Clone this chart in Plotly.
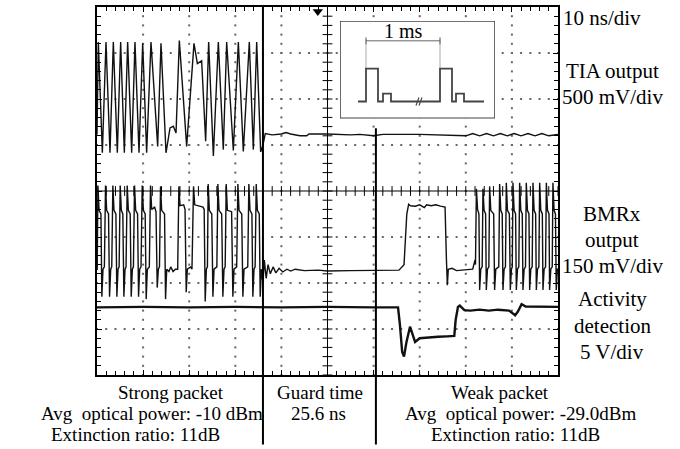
import numpy as np
import plotly.graph_objects as go

SERIF = "Liberation Serif, Times New Roman, serif"

# ---------------- data (time in ns, amplitude in screen divisions) ----------------
tia_t = [0, 0.29, 1.16, 1.95, 2.82, 3.54, 4.41, 5.13, 5.93, 6.65, 7.52, 8.24, 9.11, 9.91, 10.77,
         11.71, 13.16, 13.88, 14.97, 15.84, 16.56, 17.14, 17.86, 19.45, 21.04, 21.77, 22.70, 23.57,
         24.22, 25.24, 26.32, 27.40, 28.13, 29.57, 30.66, 31.74, 33.04, 33.91, 34.64, 35.50,
         36.0, 36.5, 38, 40, 41, 42, 44, 45.5, 46, 50, 55, 57, 60, 62, 70, 75, 80,
         81.5, 83, 84.5, 86, 87.5, 89, 90.5, 92, 93.5, 95, 96.5, 98, 100]
tia_v = [1.23, 3.24, 0.83, 3.24, 0.83, 3.24, 0.83, 3.24, 0.83, 3.24, 0.83, 3.24, 0.83, 3.21, 0.83,
         3.24, 0.97, 3.21, 0.83, 1.37, 1.41, 1.26, 3.27, 0.97, 3.21, 2.77, 2.83, 1.08,
         3.24, 0.76, 3.24, 0.90, 3.24, 0.88, 3.24, 0.86, 3.24, 0.90, 3.24, 0.85,
         1.0, 1.25, 1.22, 1.24, 1.27, 1.24, 1.2, 1.2, 1.24, 1.24, 1.22, 1.23, 1.2, 1.23, 1.23, 1.22, 1.2,
         1.25, 1.2, 1.25, 1.2, 1.25, 1.2, 1.25, 1.2, 1.25, 1.2, 1.25, 1.2, 1.23]

bmrx_t = [0.0, 0.05, 0.2, 0.45,
          0.85, 1.05, 1.3, 1.6, 1.85, 2.1, 2.5, 2.72, 2.97, 3.2, 3.44, 3.69,
          4.1, 4.31, 4.56, 4.8, 5.03, 5.28, 5.6, 5.83, 6.08, 6.3, 6.55, 6.8,
          7.2, 7.42, 7.67, 7.9, 8.14, 8.39, 8.8, 9.01, 9.26, 9.55, 9.81, 10.06,
          10.45, 10.67, 10.92, 11.35, 11.61, 11.86, 12.5, 12.8, 13.06, 13.31,
          13.55, 13.78, 14.03, 14.65, 14.87, 15.12, 15.6, 16.0, 16.5, 17.0,
          17.5, 17.76, 18.01, 18.8, 19.1, 19.35, 19.6, 20.3,
          20.6, 20.94, 21.19, 22.3, 23.0, 23.25, 23.47, 23.72,
          23.95, 24.12, 24.37, 24.9, 25.14, 25.39, 25.9, 26.0, 26.22, 26.47,
          27.05, 27.3, 27.55, 27.8, 28.03, 28.28, 29.2, 29.47, 29.72,
          30.3, 30.56, 30.81, 31.4, 31.64, 31.89, 32.7, 32.94, 33.19,
          33.6, 33.81, 34.06, 34.3, 34.54, 34.79, 35.2, 35.4, 35.65,
          36.0, 36.3, 36.7, 37.1, 37.6, 38.2, 38.8, 39.5, 40.3, 41.2, 42, 43, 45, 48, 50, 55, 60, 63, 65.5, 66.6,
          67.2, 67.6, 68, 69, 70, 71, 71.5, 72.5, 73.5, 74.5, 75.5, 75.8, 76.0, 76.2, 77, 78, 80, 81.5, 82.0,
          82.1, 82.3, 82.55, 82.85, 83.0, 83.25, 83.55, 83.72, 83.97, 84.3, 84.45, 84.7,
          85.0, 85.17, 85.42, 86.05, 86.25, 86.5, 87.15, 87.34, 87.59, 87.9, 88.06, 88.31,
          88.6, 88.79, 89.04, 89.45, 89.65, 89.9, 90.08, 90.23, 90.48, 90.8, 90.96, 91.21,
          91.5, 91.68, 91.93, 92.25, 92.4, 92.65, 92.95, 93.12, 93.37, 93.7, 93.85, 94.1,
          94.4, 94.57, 94.82, 95.15, 95.3, 95.55, 95.85, 96.02, 96.27, 96.6, 96.74, 96.99,
          97.3, 97.47, 97.72, 98.05, 98.18, 98.43, 98.75, 98.9, 99.15, 99.45, 99.62, 99.87, 100]
bmrx_v = [-1.7, -1.7, 0.12, -0.42,
          -0.5, -2.3, -1.7, -1.65, 0.12, -0.42, -0.5, -2.3, -1.7, -1.65, 0.12, -0.42,
          -0.5, -2.3, -1.7, -1.65, 0.12, -0.42, -0.5, -2.3, -1.7, -1.65, 0.12, -0.42,
          -0.5, -2.3, -1.7, -1.65, 0.12, -0.42, -0.5, -2.3, -1.7, -1.65, 0.12, -0.42,
          -0.5, -2.35, -1.7, -1.65, 0.12, -0.4, -0.35, -0.45, -2.1, -1.7,
          -1.65, 0.1, -0.42, -0.5, -2.35, -1.7, -1.75, -1.65, -1.75, -1.7,
          -1.7, 0.1, -0.32, -0.3, -0.4, -2.2, -1.7, -1.65,
          -1.7, 0.1, -0.3, -0.33, -0.35, -0.4, -2.4, -1.7,
          -1.65, 0.15, -0.42, -0.5, -2.3, -1.7, -1.65, -1.65, 0.15, -0.42,
          -0.5, -2.3, -1.7, -1.65, 0.15, -0.42, -0.45, -2.3, -1.7,
          -1.65, 0.15, -0.42, -0.5, -2.3, -1.7, -1.65, 0.15, -0.42,
          -0.5, -2.3, -1.7, -1.65, 0.15, -0.42, -0.5, -2.3, -1.7,
          -2.0, -1.5, -1.9, -1.6, -1.8, -1.65, -1.78, -1.68, -1.76, -1.7, -1.74, -1.7, -1.73, -1.72, -1.74, -1.73, -1.73, -1.73, -1.72, -1.6,
          -0.5, -0.29, -0.32, -0.33, -0.3, -0.36, -0.3, -0.32, -0.3, -0.33, -0.35, -1.5, -2.05, -1.7, -1.68, -1.73, -1.72, -1.7, -1.5,
          -1.6, 0.05, -0.4, -0.5, -2.15, -1.7, -1.65, 0.05, -0.42, -0.5, -2.15, -1.7,
          -1.65, 0.1, -0.42, -0.5, -2.15, -1.7, -1.65, 0.15, -0.42, -0.5, -2.15, -1.7,
          -1.65, 0.18, -0.42, -0.5, -2.15, -1.7, -1.65, 0.18, -0.42, -0.5, -2.15, -1.7,
          -1.65, 0.18, -0.42, -0.5, -2.15, -1.7, -1.65, 0.18, -0.42, -0.5, -2.15, -1.7,
          -1.65, 0.18, -0.42, -0.5, -2.15, -1.7, -1.65, 0.18, -0.42, -0.5, -2.15, -1.7,
          -1.65, 0.18, -0.42, -0.5, -2.15, -1.7, -1.65, 0.18, -0.42, -0.5, -2.15, -1.7, -1.7]

act_t = [0, 10, 20, 30, 40, 50, 60, 65.3, 65.7, 66.2, 66.6, 67.1, 67.9, 68.4, 69.0, 70, 72, 74, 76, 77.5,
         77.8, 78.3, 78.7, 79.7, 81, 83, 85, 87, 89.4, 90.2, 90.7, 91.3, 92.1, 93, 96, 100]
act_v = [-2.53, -2.52, -2.53, -2.52, -2.53, -2.52, -2.53, -2.53, -2.9, -3.5, -3.6, -3.3, -2.95, -3.1, -3.28, -3.2,
         -3.18, -3.17, -3.16, -3.15, -2.8, -2.52, -2.49, -2.59, -2.6, -2.58, -2.6, -2.58, -2.6, -2.66, -2.70,
         -2.62, -2.46, -2.51, -2.52, -2.52]

guard_start_ns = 36.0
guard_end_ns = 60.5
trigger_ns = 47.9

# inset schematic (arbitrary inset units)
inset_x = [18, 26, 26, 38, 38, 43, 43, 51, 51, 100, 100, 112, 112, 116, 116, 124, 124, 144]
inset_y = [17, 17, 50, 50, 17, 17, 25, 25, 17, 17, 50, 50, 17, 17, 25, 25, 17, 17]
break_x = [76, 79, None, 79, 82]
break_y = [13, 21, None, 13, 21]
dim_x = [26, 100]
dim_y = [78, 78]
ext_x = [26, 26, None, 100, 100]
ext_y = [50, 80, None, 50, 80]

right_labels = [("10 ns/div", 16, "left"), ("TIA output", 69, "center"), ("500 mV/div", 95, "center"),
                ("BMRx", 213, "center"), ("output", 239, "center"), ("150 mV/div", 265, "center"),
                ("Activity", 299, "center"), ("detection", 326, "center"), ("5 V/div", 352, "center")]
bottom_labels = [("Strong packet", 171, 393), ("Avg  optical power: -10 dBm", 152, 414),
                 ("Extinction ratio: 11dB", 135, 435),
                 ("Guard time", 320, 393), ("25.6 ns", 318, 414),
                 ("Weak packet", 500, 393), ("Avg  optical power: -29.0dBm", 521, 414),
                 ("Extinction ratio: 11dB", 515, 435)]

# ---------------- figure ----------------
W, H = 680, 449
L, R, T, B = 97, 122, 5, 74
PW, PH = W - L - R, H - T - B
X_RANGE, Y_RANGE = (0, 100), (-4, 4)

def px_x(x):
    return (x - L) / PW

def px_y(y):
    return (H - B - y) / PH

fig = go.Figure()

# dotted graticule (dots at every minor division along each major grid line)
gx, gy = [], []
for xv in np.arange(10, 100, 10):
    if xv == 50:
        continue
    ys = np.arange(-4, 4.001, 0.2)
    gx += [xv] * len(ys)
    gy += list(ys)
for yv in np.arange(-3, 4, 1):
    if yv == 0:
        continue
    xs = np.arange(0, 100.01, 2)
    gx += list(xs)
    gy += [yv] * len(xs)
fig.add_trace(go.Scatter(x=gx, y=gy, mode="markers",
                         marker=dict(symbol="square", size=2, color="#666666", line=dict(width=0)),
                         hoverinfo="skip"))

line = dict(color="#111111", width=1.4)
fig.add_trace(go.Scatter(x=tia_t, y=tia_v, mode="lines", line=line, hoverinfo="skip"))
fig.add_trace(go.Scatter(x=bmrx_t, y=bmrx_v, mode="lines", line=line, hoverinfo="skip"))
fig.add_trace(go.Scatter(x=act_t, y=act_v, mode="lines", line=dict(color="#111111", width=2.4), hoverinfo="skip"))

# center cross tick marks
cx = np.arange(0, 100.01, 2)
cy = np.arange(-4, 4.001, 0.2)
fig.add_trace(go.Scatter(x=cx, y=np.zeros_like(cx), mode="markers",
                         marker=dict(symbol="line-ns", size=7, line=dict(color="black", width=1)),
                         hoverinfo="skip"))
fig.add_trace(go.Scatter(x=np.full_like(cy, 50), y=cy, mode="markers",
                         marker=dict(symbol="line-ew", size=7, line=dict(color="black", width=1)),
                         hoverinfo="skip"))
fig.add_trace(go.Scatter(x=[trigger_ns], y=[3.9], mode="markers",
                         marker=dict(symbol="triangle-down", size=9, color="black"),
                         cliponaxis=False, hoverinfo="skip"))

# inset
fig.add_trace(go.Scatter(x=[0, 155, 155, 0, 0], y=[0, 0, 98, 98, 0], mode="lines", fill="toself",
                         fillcolor="white", line=dict(color="#444444", width=1.6),
                         xaxis="x2", yaxis="y2", hoverinfo="skip"))
fig.add_trace(go.Scatter(x=ext_x, y=ext_y, mode="lines", line=dict(color="#aaaaaa", width=1),
                         xaxis="x2", yaxis="y2", hoverinfo="skip"))
fig.add_trace(go.Scatter(x=dim_x, y=dim_y, mode="lines+markers", line=dict(color="#666666", width=1),
                         marker=dict(symbol="line-ns", size=5, line=dict(color="#666666", width=1)),
                         xaxis="x2", yaxis="y2", hoverinfo="skip"))
fig.add_trace(go.Scatter(x=inset_x, y=inset_y, mode="lines", line=dict(color="#444444", width=1.8),
                         xaxis="x2", yaxis="y2", hoverinfo="skip"))
fig.add_trace(go.Scatter(x=break_x, y=break_y, mode="lines", line=dict(color="#444444", width=1.2),
                         xaxis="x2", yaxis="y2", hoverinfo="skip"))

axis_common = dict(showticklabels=False, ticks="inside", ticklen=5, tickcolor="black", tickwidth=1,
                   showline=True, linecolor="black", linewidth=1.5, mirror="allticks",
                   zeroline=False, showgrid=False)
fig.update_layout(
    width=W, height=H, margin=dict(l=L, r=R, t=T, b=B, pad=0),
    paper_bgcolor="white", plot_bgcolor="white", showlegend=False,
    xaxis=dict(range=list(X_RANGE), dtick=10, tick0=0,
               minor=dict(dtick=2, ticks="inside", ticklen=4, tickcolor="black", showgrid=False),
               **axis_common),
    yaxis=dict(range=list(Y_RANGE), dtick=1, tick0=0,
               minor=dict(dtick=0.2, ticks="inside", ticklen=4, tickcolor="black", showgrid=False),
               **axis_common),
    xaxis2=dict(domain=[px_x(340), px_x(495)], range=[0, 155], visible=False, anchor="y2"),
    yaxis2=dict(domain=[px_y(117), px_y(19)], range=[0, 98], visible=False, anchor="x2"),
)

def t_to_paper(t):
    return (t - X_RANGE[0]) / (X_RANGE[1] - X_RANGE[0])

shapes = [
    dict(type="line", xref="x", yref="paper", x0=50, x1=50, y0=0, y1=1, line=dict(color="black", width=1)),
    dict(type="line", xref="paper", yref="y", x0=0, x1=1, y0=0, y1=0, line=dict(color="black", width=1)),
    dict(type="line", xref="paper", yref="paper", x0=t_to_paper(guard_start_ns), x1=t_to_paper(guard_start_ns),
         y0=px_y(445), y1=1, line=dict(color="black", width=2)),
    dict(type="line", xref="paper", yref="paper", x0=t_to_paper(guard_end_ns), x1=t_to_paper(guard_end_ns),
         y0=px_y(445), y1=px_y(127), line=dict(color="black", width=2)),
]
fig.update_layout(shapes=shapes)

ann = []
ann.append(dict(text="1 ms", xref="x2", yref="y2", x=63, y=88, showarrow=False,
                font=dict(family=SERIF, size=20, color="black")))
for txt, y, al in right_labels:
    ann.append(dict(text=txt, xref="paper", yref="paper", x=px_x(561) if al == "left" else px_x(612),
                    y=px_y(y), xanchor="left" if al == "left" else "center", yanchor="middle",
                    showarrow=False, font=dict(family=SERIF, size=21, color="black")))
for txt, x, y in bottom_labels:
    ann.append(dict(text=txt, xref="paper", yref="paper", x=px_x(x), y=px_y(y), xanchor="center",
                    yanchor="middle", showarrow=False, font=dict(family=SERIF, size=19, color="black")))
fig.update_layout(annotations=ann)

fig.write_html("out.html")
